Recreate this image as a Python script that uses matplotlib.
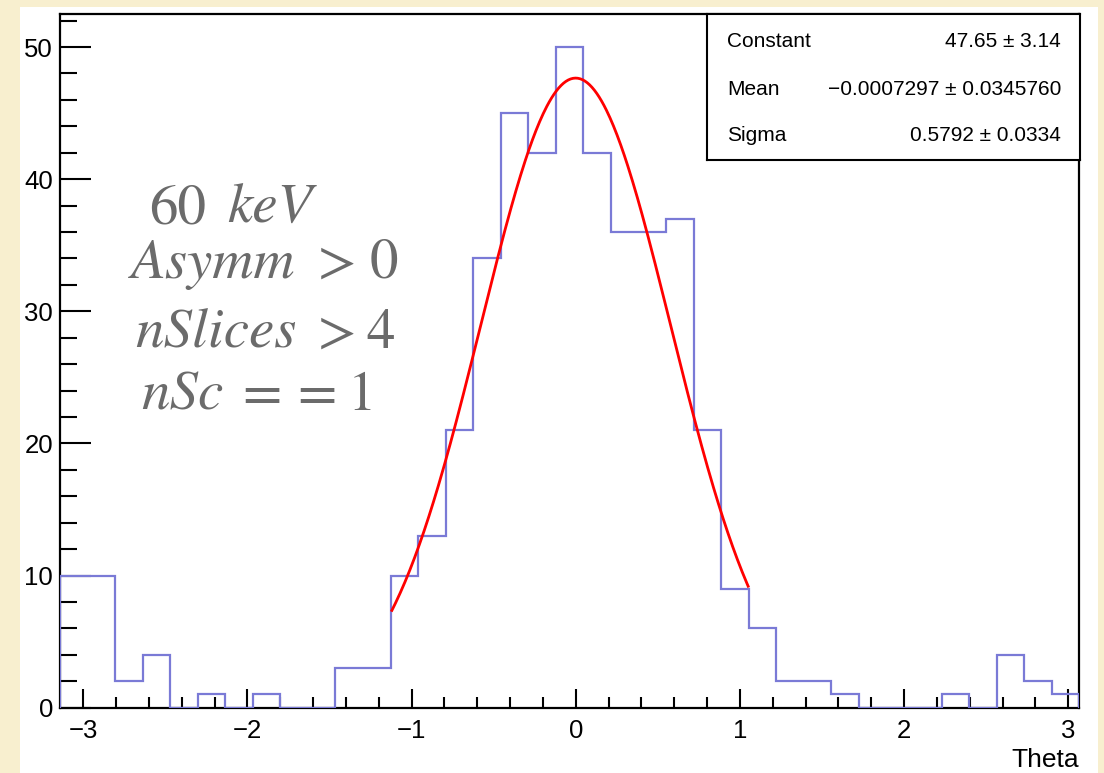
import numpy as np
import matplotlib
matplotlib.use("Agg")
import matplotlib.pyplot as plt
from matplotlib.patches import Rectangle
from matplotlib.ticker import MultipleLocator

# Histogram of Theta: 37 bins starting at -pi
x_lo = -np.pi
x_hi = 3.067
n_bins = 37
counts = [10, 10, 2, 4, 0, 1, 0, 1, 0, 0,
          3, 3, 10, 13, 21, 34, 45, 42, 50, 42,
          36, 36, 37, 21, 9, 6, 2, 2, 1, 0,
          0, 0, 1, 0, 4, 2, 1]

# Gaussian fit result
fit_const = 47.65
fit_mean = -0.0007297
fit_sigma = 0.5792
fit_range = (-1.12, 1.05)

stat_names = ["Constant", "Mean", "Sigma"]
stat_values = ["47.65 \u00b1 3.14", "\u22120.0007297 \u00b1 0.0345760", "0.5792 \u00b1 0.0334"]

# Selection cuts, each line split into pieces (text, left pixel, italic?)
cut_lines = [
    [("60", 149, False), ("keV", 227, True)],
    [("Asymm", 131, True), (">", 318, False), ("0", 370, False)],
    [("nSlices", 135, True), (">", 318, False), ("4", 366, False)],
    [("nSc", 141, True), ("=", 242, False), ("=", 297, False), ("1", 348, False)],
]
cut_baselines = [223, 278, 348, 410]

W, H = 1104, 773
plt.rcParams["font.family"] = ["Liberation Sans", "DejaVu Sans"]
plt.rcParams["mathtext.fontset"] = "stix"

fig = plt.figure(figsize=(W / 100, H / 100), dpi=100)
fig.patch.set_facecolor("#f8efcf")
fig.patches.append(Rectangle((20 / W, 0), (1098 - 20) / W, (H - 7) / H,
                             transform=fig.transFigure, facecolor="white",
                             edgecolor="none", zorder=-10))

left, right = 60 / W, 1079.3 / W
bottom, top = 1 - 707.7 / H, 1 - 14 / H
ax = fig.add_axes([left, bottom, right - left, top - bottom])
ax.set_zorder(1)
ax.set_facecolor("white")

edges = np.linspace(x_lo, x_hi, n_bins + 1)
ax.stairs(counts, edges, color="#7a7ad6", linewidth=1.6, baseline=0, zorder=3)

xf = np.linspace(fit_range[0], fit_range[1], 300)
yf = fit_const * np.exp(-0.5 * ((xf - fit_mean) / fit_sigma) ** 2)
ax.plot(xf, yf, color="#ff0000", linewidth=2.0, zorder=4)

ax.set_xlim(x_lo, x_hi)
ax.set_ylim(0, 52.5)

ax.xaxis.set_major_locator(MultipleLocator(1))
ax.xaxis.set_minor_locator(MultipleLocator(0.2))
ax.yaxis.set_major_locator(MultipleLocator(10))
ax.yaxis.set_minor_locator(MultipleLocator(2))

ax.tick_params(axis="x", which="major", direction="in", length=14, width=1.5,
               labelsize=18.5, pad=8, top=False)
ax.tick_params(axis="x", which="minor", direction="in", length=8, width=1.5, top=False)
ax.tick_params(axis="y", which="major", direction="in", length=22, width=1.5,
               labelsize=18.5, pad=5, right=False)
ax.tick_params(axis="y", which="minor", direction="in", length=12, width=1.5, right=False)

ax.set_xticks([-3, -2, -1, 0, 1, 2, 3])
ax.set_xticklabels(["\u22123", "\u22122", "\u22121", "0", "1", "2", "3"])

for s in ax.spines.values():
    s.set_linewidth(1.6)
    s.set_color("black")

fig.text(1079 / W, 1 - 767 / H, "Theta", ha="right", va="baseline", fontsize=19)

# Fit statistics box, drawn above the axes
box = fig.add_axes([707.3 / W, 1 - 160 / H, (1080 - 707.3) / W, (160 - 14) / H])
box.set_zorder(5)
box.set_xticks([])
box.set_yticks([])
box.set_xlim(707.3, 1080)
box.set_ylim(160, 14)
box.set_facecolor("white")
for s in box.spines.values():
    s.set_linewidth(1.5)
baselines = [47, 95, 141]
for name, val, yb in zip(stat_names, stat_values, baselines):
    box.text(727, yb, name, ha="left", va="baseline", fontsize=15)
    box.text(1061, yb, val, ha="right", va="baseline", fontsize=15)

# Selection cut annotations: italic variable names, upright numbers and operators
for pieces, yb in zip(cut_lines, cut_baselines):
    for txt, xp, italic in pieces:
        fig.text(xp / W, 1 - yb / H, txt, ha="left", va="baseline", fontsize=41,
                 color="#6b6b6b", zorder=6, family=["STIXGeneral"],
                 style="italic" if italic else "normal")

fig.savefig("out.png", dpi=100, facecolor=fig.get_facecolor())
